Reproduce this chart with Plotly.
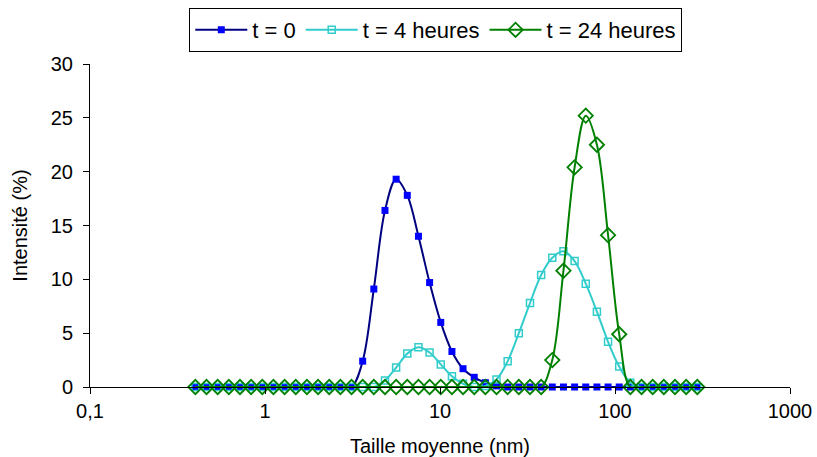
import plotly.graph_objects as go

sizes_nm = [0.4, 0.4632, 0.5365, 0.6213, 0.7195, 0.8332, 0.9649, 1.117, 1.294, 1.499,
            1.736, 2.01, 2.328, 2.696, 3.122, 3.615, 4.187, 4.849, 5.615, 6.503,
            7.531, 8.721, 10.1, 11.7, 13.54, 15.69, 18.17, 21.04, 24.36, 28.21,
            32.67, 37.84, 43.82, 50.75, 58.77, 68.06, 78.82, 91.28, 105.7, 122.4,
            141.8, 164.2, 190.1, 220.2, 255.0, 295.3]

t0 = [0, 0, 0, 0, 0, 0, 0, 0, 0, 0,
      0, 0, 0, 0, 0, 2.4, 9.1, 16.4, 19.3, 17.8,
      14.0, 9.7, 6.0, 3.3, 1.7, 0.9, 0.4, 0.1, 0, 0,
      0, 0, 0, 0, 0, 0, 0, 0, 0, 0,
      0, 0, 0, 0, 0, 0]

t4h = [0, 0, 0, 0, 0, 0, 0, 0, 0, 0,
       0, 0, 0, 0, 0, 0, 0, 0.6, 1.8, 3.1,
       3.7, 3.2, 2.1, 1.0, 0.3, 0.0, 0.1, 0.7, 2.4, 5.0,
       7.8, 10.4, 12.0, 12.6, 11.7, 9.6, 7.0, 4.2, 1.9, 0.4,
       0, 0, 0, 0, 0, 0]

t24h = [0, 0, 0, 0, 0, 0, 0, 0, 0, 0,
        0, 0, 0, 0, 0, 0, 0, 0, 0, 0,
        0, 0, 0, 0, 0, 0, 0, 0, 0, 0,
        0, 0, 2.5, 10.8, 20.4, 25.2, 22.5, 14.1, 4.9, 0,
        0, 0, 0, 0, 0, 0]

x_tickvals = [0.1, 1, 10, 100, 1000]
x_ticktext = ["0,1", "1", "10", "100", "1000"]
y_tickvals = [0, 5, 10, 15, 20, 25, 30]

FONT = "Liberation Sans, Arial, sans-serif"

fig = go.Figure()
fig.add_trace(go.Scatter(
    x=sizes_nm, y=t0, name="t = 0", mode="lines+markers", cliponaxis=False,
    line=dict(color="#000080", width=2, shape="spline", smoothing=1),
    marker=dict(symbol="square", size=7, color="#0000FF", line=dict(width=0))))
fig.add_trace(go.Scatter(
    x=sizes_nm, y=t4h, name="t = 4 heures", mode="lines+markers", cliponaxis=False,
    line=dict(color="#33CCCC", width=2, shape="spline", smoothing=1),
    marker=dict(symbol="square-open", size=7, color="#33CCCC", line=dict(width=1.5))))
fig.add_trace(go.Scatter(
    x=sizes_nm, y=t24h, name="t = 24 heures", mode="lines+markers", cliponaxis=False,
    line=dict(color="#008000", width=2, shape="spline", smoothing=1),
    marker=dict(symbol="diamond-open", size=11, color="#008000", line=dict(width=1.8))))

fig.update_layout(
    width=817, height=457,
    margin=dict(l=90, r=27, t=64, b=70, autoexpand=False),
    paper_bgcolor="white", plot_bgcolor="white",
    font=dict(family=FONT, size=20, color="black"),
    showlegend=True,
    legend=dict(orientation="h", x=0.494, xanchor="center", y=1.037, yanchor="bottom",
                bordercolor="black", borderwidth=1, font=dict(size=22),
                itemwidth=52, tracegroupgap=0),
    xaxis=dict(type="log", range=[-1, 3], tickvals=x_tickvals, ticktext=x_ticktext,
               automargin=False,
               showgrid=False, zeroline=False, showline=True, linecolor="black", linewidth=1,
               ticks="outside", ticklen=6, tickcolor="black",
               title=dict(text="Taille moyenne (nm)", font=dict(size=20), standoff=29)),
    yaxis=dict(range=[0, 30], tickvals=y_tickvals, automargin=False,
               showgrid=False, zeroline=False, showline=True, linecolor="black", linewidth=1,
               ticks="outside", ticklen=6, tickcolor="black", ticklabelstandoff=6,
               title=dict(text="Intensité (%)", font=dict(size=20), standoff=17)),
)

# remove the browser's default 8px body margin so the figure fills the window
fig.write_html(
    "out.html",
    config={"displayModeBar": False},
    post_script="document.body.style.margin='0';document.body.style.overflow='hidden';",
)
